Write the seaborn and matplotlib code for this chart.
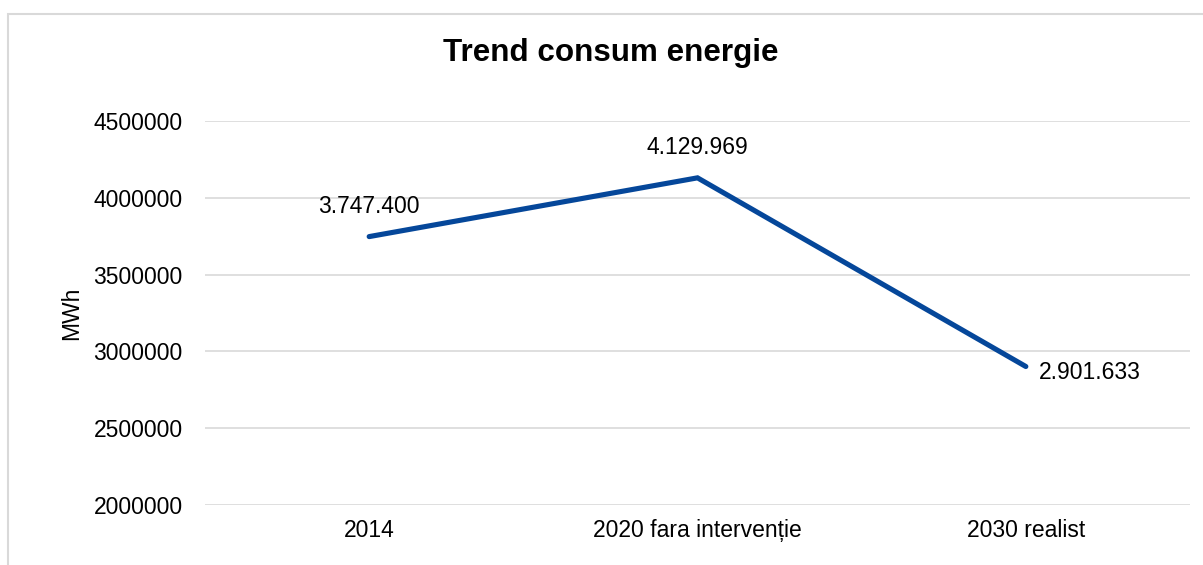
import matplotlib
matplotlib.use("Agg")
import matplotlib.pyplot as plt
from matplotlib.patches import Rectangle
import seaborn as sns
import pandas as pd

# Data
categories = ["2014", "2020 fara intervenție", "2030 realist"]
consum_mwh = [3747400, 4129969, 2901633]
y_ticks = [2000000, 2500000, 3000000, 3500000, 4000000, 4500000]

df = pd.DataFrame({"categorie": categories, "consum": consum_mwh})

sns.set_theme(style="white")
plt.rcParams["font.family"] = ["Liberation Sans", "DejaVu Sans"]

W, H = 1203, 565
fig = plt.figure(figsize=(W / 100, H / 100), dpi=100)
ax = fig.add_axes([205 / W, 1 - 505 / H, (1190 - 205) / W, (505 - 121) / H])

line_color = "#05479A"
grid_color = "#D9D9D9"

sns.lineplot(data=df, x="categorie", y="consum", ax=ax, color=line_color,
             linewidth=3.7, sort=False)
for l in ax.lines:
    l.set_solid_capstyle("round")
    l.set_solid_joinstyle("miter")

ax.set_xlim(-0.5, len(categories) - 0.5)
ax.set_ylim(y_ticks[0], y_ticks[-1])
ax.set_yticks(y_ticks)
ax.set_yticklabels([str(t) for t in y_ticks])
ax.set_xticks(range(len(categories)))
ax.set_xticklabels(categories)

ax.grid(axis="y", color=grid_color, linewidth=1.2)
ax.grid(axis="x", visible=False)
for s in ax.spines.values():
    s.set_visible(False)
ax.tick_params(axis="y", length=0, pad=16, labelsize=16.5, colors="black")
ax.tick_params(axis="x", length=0, pad=10, labelsize=16.5, colors="black")
ax.set_xlabel("")
ax.set_ylabel("MWh", fontsize=16.5, color="black")
ax.yaxis.set_label_coords((83 - 205) / (1190 - 205), 0.5)
ax.set_axisbelow(True)

# Data labels with dotted thousands separators
def fmt(v):
    return f"{v:,}".replace(",", ".")

offsets = [((0, 30), "center", "center"),
           ((0, 30), "center", "center"),
           ((13, -6), "left", "center")]
for i, (v, (off, ha, va)) in enumerate(zip(consum_mwh, offsets)):
    ax.annotate(fmt(v), (i, v), xytext=off, textcoords="offset pixels",
                ha=ha, va=va, fontsize=16.5, color="black")

# Title
fig.text(611 / W, 1 - 53 / H, "Trend consum energie", ha="center", va="center",
         fontsize=22.6, fontweight="bold", color="black")

# Chart frame (only its left and top edges fall inside the canvas)
fig.patches.append(Rectangle((8 / W, -0.2), 1.2, 1.2 - 14 / H,
                             transform=fig.transFigure, fill=False,
                             edgecolor=grid_color, linewidth=1.5))

fig.savefig("out.png", dpi=100)
